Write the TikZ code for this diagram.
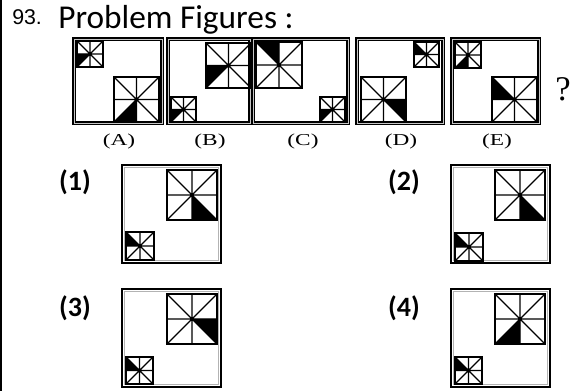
\documentclass[tikz,border=0pt]{standalone}
\usepackage{fontspec}
\setmainfont{Liberation Serif}
\newfontfamily\calibri{Carlito}
\newfontfamily\arialfont{Liberation Sans}
\usepackage{xcolor}
\definecolor{frameGray}{RGB}{160,160,160}
\usetikzlibrary{positioning}

% one pattern square: #1,#2 top-left corner (px), #3 side, #4 black triangle (0..7, ccw from right)
\newcommand{\patsq}[4]{%
  \pgfmathsetmacro{\sqh}{#3/2}%
  \pgfmathsetmacro{\radA}{mod(#4,2)==0 ? \sqh : 1.41421*\sqh}%
  \pgfmathsetmacro{\radB}{mod(#4,2)==0 ? 1.41421*\sqh : \sqh}%
  \begin{scope}[shift={({#1+\sqh},{#2+\sqh})}]
    \fill (0,0) -- ({-45*#4}:\radA) -- ({-45*(#4+1)}:\radB) -- cycle;
    \draw[line width=0.9pt] (-\sqh,0) -- (\sqh,0) (0,-\sqh) -- (0,\sqh)
      (-\sqh,-\sqh) -- (\sqh,\sqh) (-\sqh,\sqh) -- (\sqh,-\sqh);
    \draw[line width=1.6pt] (-\sqh,-\sqh) rectangle (\sqh,\sqh);
  \end{scope}}

\tikzset{
  probframe/.style={draw=black, line width=1.1pt, double=frameGray!60, double distance=0.7pt},
  optframe/.style={draw=black, line width=1.6pt},
  optinner/.style={draw=frameGray!80, line width=0.8pt},
  optlabel/.style={font=\calibri\bfseries\fontsize{21}{24}\selectfont, inner sep=0}
}

\begin{document}
\begin{tikzpicture}[x=0.75pt, y=-0.75pt]
  \useasboundingbox (0,0) rectangle (585,391);
  \draw[line width=1pt] (1,0) -- (1,391);
  \node[font=\arialfont\fontsize{16}{18}\selectfont, anchor=base west, inner sep=0] (qnum) at (12,25) {93.};
  \node[font=\calibri\fontsize{25}{28}\selectfont, anchor=base west, inner sep=0] (title) at (58,29) {Problem Figures :};

  % problem figures
  \foreach \xa/\xb in {74/162, 168/250, 253/348, 357/443, 452/539} {
    \draw[probframe] (\xa,39) rectangle (\xb,123);
  }
  \patsq{77}{41}{26}{4}   \patsq{114}{77}{45}{5}
  \patsq{171}{97}{25}{4}  \patsq{206}{43}{45}{4}
  \patsq{320}{97}{25}{4}  \patsq{256}{42}{46}{2}
  \patsq{414}{42}{25}{3}  \patsq{361}{77}{45}{7}
  \patsq{455}{42}{26}{5}  \patsq{492}{77}{45}{3}
  \foreach \lab/\cx in {A/119, B/210, C/303, D/401, E/497} {
    \node[font=\fontsize{12.5}{14}\selectfont, inner sep=0] (lab\lab) at (\cx,141) {\scalebox{1.4}[1]{(\lab)}};
  }
  \node[font=\fontsize{26}{28}\selectfont, inner sep=0] (qmark) at (563,89) {?};

  % answer figures
  \foreach \xa/\ya in {122/165, 451/165, 122/289, 451/289} {
    \draw[optframe] (\xa,\ya) rectangle ({\xa+99},{\ya+98});
    \draw[optinner] ({\xa+2.5},{\ya+2.5}) rectangle ({\xa+96.5},{\ya+95.5});
  }
  \patsq{126}{232}{28}{3}  \patsq{167}{170}{50}{6}
  \patsq{455}{233}{28}{3}  \patsq{495}{170}{50}{6}
  \patsq{126}{357}{27}{3}  \patsq{167}{294}{50}{7}
  \patsq{455}{357}{27}{3}  \patsq{495}{294}{50}{5}
  \node[optlabel] (opt1) at (75,182) {(1)};
  \node[optlabel] (opt2) at (404,182) {(2)};
  \node[optlabel] (opt3) at (75,308) {(3)};
  \node[optlabel] (opt4) at (404,308) {(4)};
\end{tikzpicture}
\end{document}
